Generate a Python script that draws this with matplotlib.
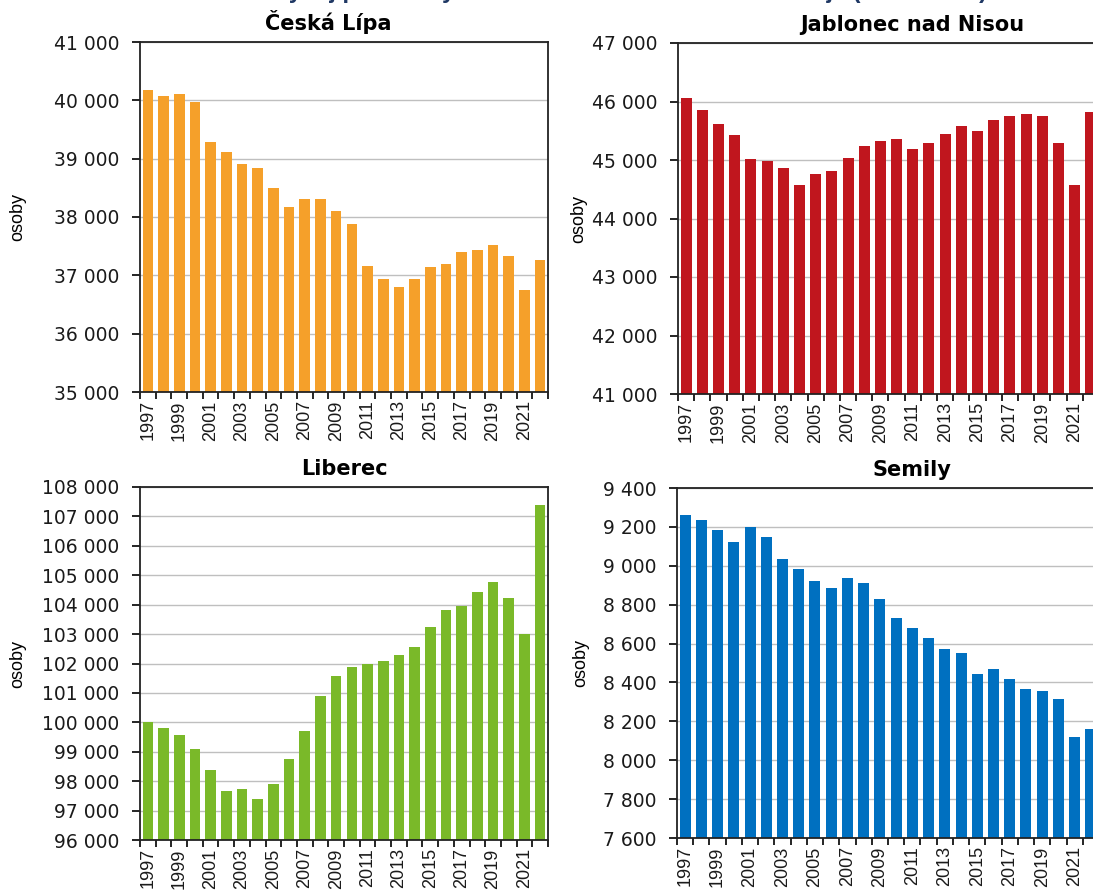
import numpy as np
import matplotlib
matplotlib.use("Agg")
import matplotlib.pyplot as plt
from matplotlib.ticker import FuncFormatter, MultipleLocator

plt.rcParams['font.family'] = ['Liberation Sans', 'DejaVu Sans']

years = list(range(1997, 2023))

# populace okresu (odhad z grafu)
ceska_lipa = [40170, 40076, 40110, 39967, 39284, 39106, 38905, 38847, 38491, 38170,
              38313, 38313, 38107, 37877, 37165, 36936, 36804, 36936, 37137, 37194,
              37406, 37429, 37521, 37337, 36746, 37257]
jablonec = [46061, 45851, 45618, 45419, 45009, 44986, 44867, 44571, 44753, 44804,
            45037, 45242, 45333, 45356, 45185, 45299, 45447, 45589, 45504, 45680,
            45760, 45794, 45760, 45299, 44571, 45828]
liberec = [100015, 99813, 99567, 99107, 98367, 97671, 97739, 97402, 97907, 98770,
           99690, 100890, 101585, 101866, 101989, 102101, 102281, 102561, 103256, 103828,
           103952, 104434, 104759, 104243, 102987, 107383]
semily = [9263, 9238, 9185, 9123, 9200, 9149, 9036, 8983, 8921, 8887,
          8938, 8911, 8829, 8733, 8678, 8627, 8574, 8549, 8444, 8470,
          8417, 8366, 8357, 8313, 8121, 8162]

panels = [
    ("Česká Lípa", ceska_lipa, "#F5A02A", (35000, 41000), 1000),
    ("Jablonec nad Nisou", jablonec, "#C0161E", (41000, 47000), 1000),
    ("Liberec", liberec, "#7AB929", (96000, 108000), 1000),
    ("Semily", semily, "#0070C0", (7600, 9400), 200),
]

W, H = 1093, 892
# left, top, right, bottom in pixels
boxes = [(140, 42, 548, 392), (678, 43, 1099, 394),
         (140, 487, 548, 840), (677, 488, 1099, 838)]
label_x = [26, 587, 26, 589]
title_x = [328, 912, 344, 912]

fig = plt.figure(figsize=(W / 100, H / 100), dpi=100)

def thousands(v, pos):
    return f"{int(v):,}".replace(",", " ")

x = np.arange(len(years))
for (title, vals, col, ylim, step), (l, t, r, b), lx, tx in zip(panels, boxes, label_x, title_x):
    ax = fig.add_axes([l / W, 1 - b / H, (r - l) / W, (b - t) / H])
    ax.bar(x, vals, width=0.68, color=col, zorder=2)
    ax.set_xlim(-0.5, len(years) - 0.5)
    ax.set_ylim(*ylim)
    ax.yaxis.set_major_locator(MultipleLocator(step))
    ax.yaxis.set_major_formatter(FuncFormatter(thousands))
    ax.grid(axis='y', color='#BFBFBF', linewidth=1.0, zorder=0)
    ax.set_axisbelow(True)
    ax.set_xticks(x[::2])
    ax.set_xticklabels([str(y) for y in years[::2]], rotation=90)
    ax.set_xticks(np.arange(-0.5, len(years)), minor=True)
    ax.tick_params(axis='x', which='major', length=0, labelsize=13, pad=6,
                   labelcolor='#1a1a1a')
    ax.tick_params(axis='x', which='minor', length=5, width=1.2, direction='out')
    ax.tick_params(axis='y', length=6, width=1.2, direction='out', pad=9,
                   labelcolor='#1a1a1a')
    for lab in ax.get_yticklabels():
        lab.set_family('DejaVu Sans')
        lab.set_fontsize(13.5)
    for s in ax.spines.values():
        s.set_color('#222222')
        s.set_linewidth(1.3)
    ax.set_title(title, fontsize=15, fontweight='bold', pad=9, family='DejaVu Sans',
                 x=(tx - l) / (r - l))
    ax.set_ylabel("osoby", fontsize=13)
    ax.yaxis.set_label_coords((lx - l) / (r - l), 0.5)

fig.text(0.576, 1.0 + 2.0 / H, "Vývoj počtu obyvatel v okresech Libereckého kraje (1997–2022)",
         ha='center', va='baseline', fontsize=17, fontweight='bold', color='#1F3864')

fig.savefig("out.png", dpi=100)
